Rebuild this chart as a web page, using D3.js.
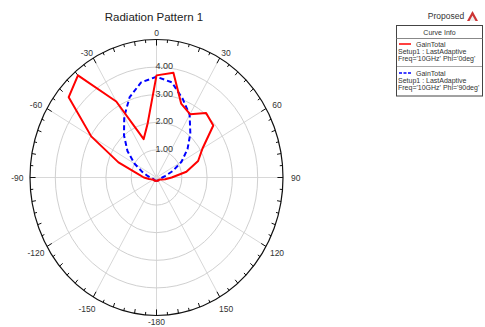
<!DOCTYPE html>
<html>
<head>
<title>Radiation Pattern 1</title>
<script src="https://d3js.org/d3.v7.min.js"></script>
<style>
  body { margin: 0; background: #fff; }
  text { font-family: "Liberation Sans", Arial, sans-serif; fill: #333; }
  .ring { fill: none; stroke: #d0d0d0; stroke-width: 1px; }
  .spoke { stroke: #d8d8d8; stroke-width: 1px; }
  .outer { fill: none; stroke: #111; stroke-width: 1.2px; }
  .tick { stroke: #111; stroke-width: 1px; }
  .curve { fill: none; stroke-width: 2px; stroke-linejoin: round; }
</style>
</head>
<body>
<svg width="485" height="327"></svg>
<script>
// angle (deg) of each sample
var angles = [-180, -170, -160, -150, -140, -130, -120, -110, -100, -90, -80, -70, -60, -50, -40, -30, -20, -10,
              0, 10, 20, 30, 40, 50, 60, 70, 80, 90, 100, 110, 120, 130, 140, 150, 160, 170, 180];
// GainTotal, Phi='0deg'
var gainPhi0 = [0.12, 0.13, 0.12, 0.14, 0.13, 0.15, 0.14, 0.2, 0.3, 0.5, 0.75, 1.6, 2.98, 4.53, 4.83, 3.18, 1.48, 2.0,
                3.7, 3.85, 2.85, 2.65, 3.05, 2.93, 2.1, 1.75, 1.2, 0.6, 0.35, 0.22, 0.15, 0.13, 0.14, 0.12, 0.13, 0.12, 0.12];
// GainTotal, Phi='90deg'
var gainPhi90 = [0.12, 0.12, 0.12, 0.12, 0.12, 0.12, 0.13, 0.14, 0.17, 0.25, 0.37, 0.6, 1.0, 1.5, 2.0, 2.55, 3.1, 3.5,
                 3.65, 3.5, 3.03, 2.62, 2.08, 1.6, 1.14, 0.68, 0.36, 0.23, 0.17, 0.14, 0.13, 0.12, 0.12, 0.12, 0.12, 0.12, 0.12];
var ringValues = [1, 2, 3, 4];
var ringLabels = ["1.00", "2.00", "3.00", "4.00"];
var spokeAngles = [0, 30, 60, 90, 120, 150, 180, 210, 240, 270, 300, 330];
var spokeLabels = ["0", "30", "60", "90", "120", "150", "-180", "-150", "-120", "-90", "-60", "-30"];
var legendSetup = "Setup1 : LastAdaptive";
var legendNames = ["GainTotal", "GainTotal"];
var legendFreq = ["Freq='10GHz' Phi='0deg'", "Freq='10GHz' Phi='90deg'"];

var svg = d3.select("svg");
var cx = 156.5, cy = 177.5;
var rMax = 5;
// the plot is drawn stretched: a bit taller than wide
var rx = d3.scaleLinear().domain([0, rMax]).range([0, 126.5]);
var ry = d3.scaleLinear().domain([0, rMax]).range([0, 138]);
var rad = d3.scaleLinear().domain([0, 360]).range([0, 2 * Math.PI]);

function px(r, a) { return cx + rx(r) * Math.sin(rad(a)); }
function py(r, a) { return cy - ry(r) * Math.cos(rad(a)); }

// title
svg.append("text")
   .attr("x", 154).attr("y", 21)
   .attr("text-anchor", "middle")
   .style("font-size", "11.5px")
   .style("fill", "#222")
   .text("Radiation Pattern 1");

var g = svg.append("g");

// spokes
g.selectAll(".spoke").data(spokeAngles).enter().append("line")
 .attr("class", "spoke")
 .attr("x1", cx).attr("y1", cy)
 .attr("x2", d => px(rMax, d)).attr("y2", d => py(rMax, d));

// rings
g.selectAll(".ring").data(ringValues).enter().append("ellipse")
 .attr("class", "ring")
 .attr("cx", cx).attr("cy", cy)
 .attr("rx", d => rx(d)).attr("ry", d => ry(d));

// outer boundary
g.append("ellipse").attr("class", "outer")
 .attr("cx", cx).attr("cy", cy)
 .attr("rx", rx(rMax)).attr("ry", ry(rMax));

// angular ticks every 5 deg, pointing inward
var tickAngles = d3.range(0, 360, 5);
function tickLen(d) { return d % 30 === 0 ? 0.22 : (d % 10 === 0 ? 0.16 : 0.11); }
g.selectAll(".tick").data(tickAngles).enter().append("line")
 .attr("class", "tick")
 .attr("x1", d => px(rMax, d)).attr("y1", d => py(rMax, d))
 .attr("x2", d => px(rMax - tickLen(d), d))
 .attr("y2", d => py(rMax - tickLen(d), d));

// angle labels (upper half sit closer to the rim than lower half)
g.selectAll(".alabel").data(spokeAngles).enter().append("text")
 .attr("class", "alabel")
 .attr("x", d => px(rMax + 0.5, d))
 .attr("y", d => Math.min(py(Math.cos(rad(d)) >= 0 ? rMax + 0.22 : rMax + 0.5, d) + 3, 325))
 .attr("text-anchor", "middle")
 .style("font-size", "8.5px")
 .text((d, i) => spokeLabels[i]);

// ring labels
g.selectAll(".rlabel").data(ringValues).enter().append("text")
 .attr("class", "rlabel")
 .attr("x", cx - 1)
 .attr("y", d => cy - ry(d) + 2)
 .style("font-size", "9px")
 .text((d, i) => ringLabels[i]);

// curves
var line = d3.line()
    .x((d, i) => px(d, angles[i]))
    .y((d, i) => py(d, angles[i]));

g.append("path").datum(gainPhi90)
 .attr("class", "curve")
 .attr("d", line)
 .style("stroke", "#0000ff")
 .style("stroke-dasharray", "5,3");

g.append("path").datum(gainPhi0)
 .attr("class", "curve")
 .attr("d", line)
 .style("stroke", "#ff0000");

// top-right label and logo
svg.append("text")
   .attr("x", 446).attr("y", 19)
   .attr("text-anchor", "middle")
   .style("font-size", "8.5px")
   .text("Proposed");
svg.append("path")
   .attr("d", "M467,21 L472.5,11 L478,21 Z")
   .style("fill", "#c33");
svg.append("path")
   .attr("d", "M469.5,21 L472.5,15.5 L475.5,21 Z")
   .style("fill", "#eee");

// legend box
var lg = svg.append("g");
lg.append("rect")
  .attr("x", 396.5).attr("y", 25.5).attr("width", 86).attr("height", 70.5)
  .style("fill", "#fff").style("stroke", "#444").style("stroke-width", 1);
lg.append("text")
  .attr("x", 439.5).attr("y", 35)
  .attr("text-anchor", "middle")
  .style("font-size", "7px")
  .text("Curve Info");
lg.append("line")
  .attr("x1", 396.5).attr("x2", 482.5).attr("y1", 38.5).attr("y2", 38.5)
  .style("stroke", "#888");
lg.append("line")
  .attr("x1", 397).attr("x2", 482).attr("y1", 66.5).attr("y2", 66.5)
  .style("stroke", "#aaa");

var colors = ["#ff0000", "#0000ff"];
legendNames.forEach(function(name, i) {
  var y0 = 44 + i * 29;
  lg.append("line")
    .attr("x1", 399).attr("x2", 411).attr("y1", y0).attr("y2", y0)
    .style("stroke", colors[i]).style("stroke-width", 1.5)
    .style("stroke-dasharray", i === 1 ? "3,1.5" : null);
  lg.append("text").attr("x", 416).attr("y", y0 + 2.5)
    .style("font-size", "7px").text(name);
  lg.append("text").attr("x", 398).attr("y", y0 + 9.5)
    .style("font-size", "7px").text(legendSetup);
  lg.append("text").attr("x", 398).attr("y", y0 + 16.5)
    .style("font-size", "7px").text(legendFreq[i]);
});
</script>
</body>
</html>
